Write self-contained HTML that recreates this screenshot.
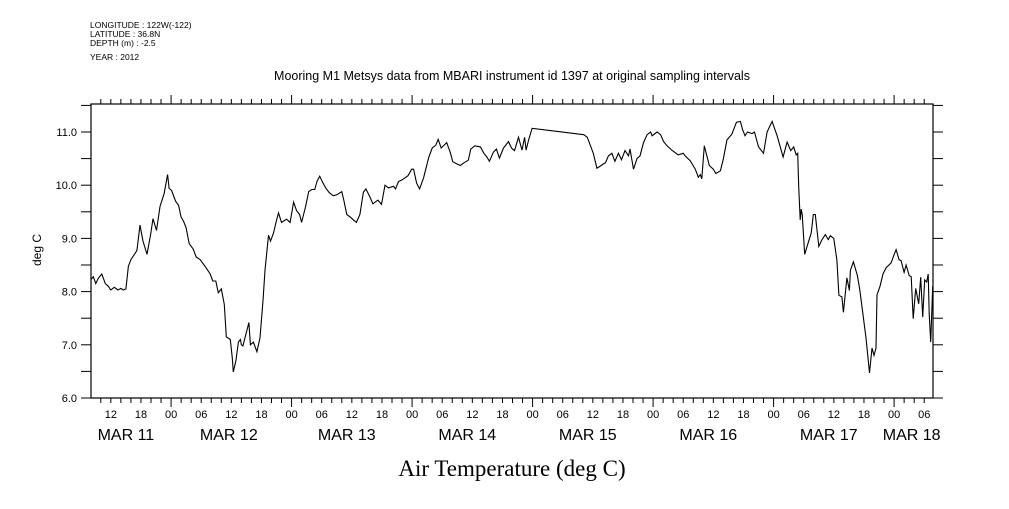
<!DOCTYPE html>
<html><head><meta charset="utf-8"><style>
body{margin:0;background:#fff;}
svg text{font-family:"Liberation Sans",sans-serif;fill:#000;}
</style></head><body>
<svg id="chart" width="1009" height="504" viewBox="0 0 1009 504" xmlns="http://www.w3.org/2000/svg">
<g font-size="8.5">
<text x="90" y="28">LONGITUDE : 122W(-122)</text>
<text x="90" y="37">LATITUDE : 36.8N</text>
<text x="90" y="46">DEPTH (m) : -2.5</text>
<text x="90" y="60">YEAR : 2012</text>
</g>
<text x="512" y="80" font-size="12.5" text-anchor="middle">Mooring M1 Metsys data from MBARI instrument id 1397 at original sampling intervals</text>
<text x="512" y="476" font-size="23" text-anchor="middle" style="font-family:'Liberation Serif',serif">Air Temperature (deg C)</text>
<text x="0" y="0" font-size="12" text-anchor="middle" transform="translate(41,250) rotate(-90)">deg C</text>
<rect x="91" y="104" width="842" height="294" fill="none" stroke="#000" stroke-width="1.2"/>
<g id="axes"></g>
<g id="series"></g>
</svg>
<script>
const hours=[-16,-15.5,-15,-14.5,-13.8,-13.1,-12.5,-12,-11.3,-10.6,-10,-9.5,-9,-8.5,-8,-6.8,-6.2,-5.6,-4.8,-4.1,-3.6,-2.9,-2.2,-1.4,-0.7,-0.4,0.1,0.9,1.5,2,2.5,3,3.6,4.4,5,5.8,6.8,7.8,8.3,8.9,9.4,10,10.6,11,11.8,12.2,12.4,12.9,13.4,13.8,14,14.3,15.5,15.8,16.4,17.1,17.7,18.3,18.7,19.4,19.8,20.4,20.9,21.4,22,23,23.7,24.4,25,25.6,26,26.8,27.4,28,28.6,29.1,29.6,30.2,30.8,31.5,32.3,33,34,34.4,35,35.7,36.3,36.9,37.6,38.3,38.8,39.6,40.2,41.2,41.9,42.6,43.3,44.3,44.7,45.3,46,46.6,47.2,47.9,48.3,48.9,49.5,50.3,51.3,52,52.7,53.2,53.8,54.9,55.6,56.1,56.9,57.6,58.3,59.2,59.7,60.5,61.6,62.3,62.9,63.4,64.2,64.8,65.4,66.2,67.2,67.8,68.4,69.2,69.9,70.4,70.7,71.2,71.9,82.2,82.9,83.5,84.1,84.8,85.5,86.1,86.5,87.1,87.8,88.4,89.1,89.7,90.4,91.1,91.4,92.1,92.8,93.4,94.1,94.8,95.5,95.8,96.8,97.5,98.1,98.8,99.7,101,102,102.4,103.4,104.4,105,105.4,105.7,106.2,107.2,108,108.5,109.4,110,110.7,111.7,112.6,113.4,113.8,114.3,114.8,115.7,116.2,117,118,118.7,119.7,120.7,121.9,122.7,123.4,124,124.5,124.8,125,125.3,125.5,125.7,126.2,126.9,127.5,127.9,128.3,129,129.6,130.3,130.9,131.3,132,132.6,133,133.6,133.9,134.6,135.1,135.3,135.9,136.7,137.2,137.7,138.4,139.1,139.6,140,140.4,140.6,141.2,141.8,142.4,143.4,144.1,144.4,145,145.4,146,146.4,147,147.4,147.8,148.3,148.9,149.3,149.7,150.1,150.5,150.8,151,151.3,151.7];
const temps=[8.22,8.28,8.15,8.25,8.33,8.15,8.1,8.03,8.08,8.03,8.06,8.03,8.05,8.48,8.6,8.77,9.25,8.95,8.7,9.06,9.37,9.15,9.6,9.84,10.2,9.94,9.9,9.7,9.62,9.4,9.32,9.2,8.9,8.8,8.65,8.6,8.47,8.33,8.2,8.2,7.98,8.05,7.76,7.15,7.1,6.75,6.49,6.7,7.05,7.1,7.0,6.98,7.42,7.0,7.05,6.87,7.13,7.83,8.4,9.06,8.95,9.1,9.3,9.48,9.3,9.36,9.3,9.68,9.52,9.45,9.3,9.6,9.88,9.92,9.92,10.08,10.17,10.05,9.95,9.86,9.8,9.82,9.88,9.72,9.45,9.4,9.35,9.3,9.45,9.87,9.93,9.78,9.65,9.72,9.64,10.0,9.95,9.98,9.93,10.07,10.1,10.14,10.18,10.3,10.3,10.04,9.93,10.14,10.52,10.7,10.75,10.86,10.7,10.8,10.62,10.44,10.4,10.37,10.42,10.47,10.68,10.74,10.72,10.6,10.53,10.45,10.62,10.68,10.51,10.7,10.82,10.7,10.65,10.9,10.66,10.9,10.66,10.85,11.07,10.95,10.9,10.75,10.6,10.32,10.36,10.4,10.42,10.55,10.6,10.45,10.6,10.48,10.65,10.55,10.68,10.3,10.5,10.55,10.8,10.95,11.0,10.93,11.0,10.95,10.82,10.74,10.66,10.57,10.6,10.55,10.46,10.3,10.15,10.2,10.12,10.74,10.37,10.3,10.22,10.27,10.5,10.85,10.96,11.18,11.2,11.05,10.93,11.0,10.97,11.0,10.72,10.6,11.0,11.2,10.93,10.53,10.81,10.65,10.72,10.57,10.6,9.98,9.35,9.55,9.45,8.7,8.92,9.1,9.45,9.45,8.85,8.97,9.07,8.98,9.05,9.0,8.59,7.93,7.9,7.61,8.26,8.02,8.4,8.56,8.3,8.02,7.64,7.13,6.47,6.94,6.8,6.94,7.94,8.1,8.33,8.45,8.54,8.72,8.79,8.6,8.58,8.36,8.5,8.3,8.28,7.49,8.06,7.77,8.27,7.52,8.22,8.18,8.33,7.58,7.05,8.1,7.9];
const hourLabels=["12","18","00","06","12","18","00","06","12","18","00","06","12","18","00","06","12","18","00","06","12","18","00","06","12","18","00","06"];
const dateLabels=["MAR 11","MAR 12","MAR 13","MAR 14","MAR 15","MAR 16","MAR 17","MAR 18"];
const dateLabelHours=[-9,11.5,35,59,83,107,131,147.5];
const yTickLabels=["6.0","7.0","8.0","9.0","10.0","11.0"];

const X0=91,X1=933,Y0=398,Y1=104;
const H0=-15.95,H1=151.75;
const xs=h=>X0+(h-H0)/(H1-H0)*(X1-X0);
const ys=v=>Y0-(v-6)/(11.5-6.0)*(Y0-Y1)*(1/1)*((11.0-6.0)/(11.0-6.0))*((398-132)/((398-104)*(5/5.5)));
const NS="http://www.w3.org/2000/svg";
const axes=document.getElementById('axes');
function mk(tag,attrs,parent){const e=document.createElementNS(NS,tag);for(const k in attrs)e.setAttribute(k,attrs[k]);parent.appendChild(e);return e;}
// x ticks every 2h
for(let h=-14;h<=151;h+=2){
  const x=xs(h);const major=(h%24===0);const len=major?9:5;
  const t1=mk('line',{x1:x,x2:x,y1:Y1,y2:Y1-len,stroke:'#000'},axes);
  
  
  const t2=mk('line',{x1:x,x2:x,y1:Y0,y2:Y0+len,stroke:'#000'},axes);
  
  
}
hourLabels.forEach((lab,i)=>{
  const h=-12+6*i;
  const t=mk('text',{x:xs(h),y:418,'font-size':11,'text-anchor':'middle'},axes);
  t.textContent=lab;
  
  
});
dateLabels.forEach((lab,i)=>{
  const t=mk('text',{x:xs(dateLabelHours[i]),y:440,'font-size':16,'text-anchor':'middle'},axes);
  t.textContent=lab;
  
  
});
for(let v=6;v<=11.51;v+=0.5){
  const y=ys(v);
  const a=mk('line',{x1:X0,x2:X0-10,y1:y,y2:y,stroke:'#000'},axes);
  
  
  const b=mk('line',{x1:X1,x2:X1+10,y1:y,y2:y,stroke:'#000'},axes);
  
  
}
yTickLabels.forEach(lab=>{
  const t=mk('text',{x:77,y:ys(parseFloat(lab))+4,'font-size':11,'text-anchor':'end'},axes);
  t.textContent=lab;
  
  
});
const d=hours.map((h,i)=>(i?'L':'M')+xs(h).toFixed(1)+','+ys(temps[i]).toFixed(1)).join('');
const p=mk('path',{d:d,fill:'none',stroke:'#000','stroke-width':1.1},document.getElementById('series'));


</script>
</body></html>
